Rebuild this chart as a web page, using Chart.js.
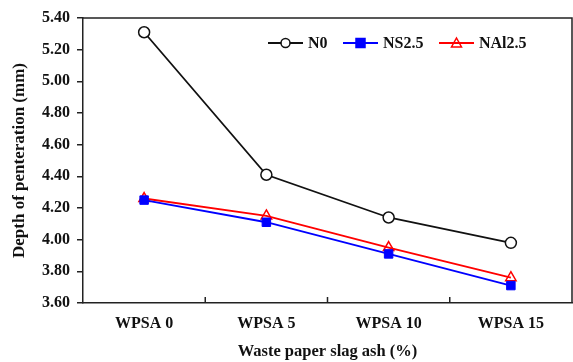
<!DOCTYPE html>
<html>
<head>
<meta charset="utf-8">
<script src="https://cdn.jsdelivr.net/npm/chart.js@4"></script>
<style>
  html, body { margin: 0; padding: 0; background: #fff; }
  #wrap { width: 573px; height: 362px; }
</style>
</head>
<body>
<div id="wrap"><canvas id="lineChart"></canvas></div>
<script>
// data
var categories = ['WPSA 0', 'WPSA 5', 'WPSA 10', 'WPSA 15'];
var n0 = [5.31, 4.41, 4.14, 3.98];
var ns25 = [4.25, 4.11, 3.91, 3.71];
var nal25 = [4.26, 4.15, 3.95, 3.76];
var yTicks = [3.60, 3.80, 4.00, 4.20, 4.40, 4.60, 4.80, 5.00, 5.20, 5.40];

var serif = "'Liberation Serif', 'Times New Roman', serif";

// frame on top/right + inward x ticks
var framePlugin = {
    id: 'frame',
    afterDraw: function (chart) {
        var ctx = chart.ctx;
        var a = chart.chartArea;
        var x = chart.scales.x;
        ctx.save();
        ctx.strokeStyle = '#222';
        ctx.lineWidth = 1.5;
        ctx.beginPath();
        ctx.moveTo(a.left, a.top);
        ctx.lineTo(a.right, a.top);
        ctx.lineTo(a.right, a.bottom);
        for (var i = 0; i < categories.length - 1; i++) {
            var px = (x.getPixelForValue(i) + x.getPixelForValue(i + 1)) / 2;
            ctx.moveTo(px, a.bottom);
            ctx.lineTo(px, a.bottom - 6);
        }
        ctx.stroke();
        ctx.restore();
    }
};

// legend drawn inside the plot, line + marker like the original
var legendPlugin = {
    id: 'innerLegend',
    afterDraw: function (chart) {
        var ctx = chart.ctx;
        var y = 43;
        var starts = [268, 343, 439];
        ctx.save();
        ctx.font = 'bold 16px ' + serif;
        ctx.textBaseline = 'middle';
        chart.data.datasets.forEach(function (ds, i) {
            var x0 = starts[i];
            ctx.strokeStyle = ds.borderColor;
            ctx.lineWidth = 1.8;
            ctx.beginPath();
            ctx.moveTo(x0, y);
            ctx.lineTo(x0 + 35, y);
            ctx.stroke();
            var cx = x0 + 17.5;
            ctx.fillStyle = ds.pointBackgroundColor;
            ctx.strokeStyle = ds.pointBorderColor;
            ctx.lineWidth = 1.5;
            ctx.beginPath();
            if (ds.pointStyle === 'circle') {
                ctx.arc(cx, y, 4.5, 0, Math.PI * 2);
            } else if (ds.pointStyle === 'rect') {
                ctx.rect(cx - 4.5, y - 4.5, 9, 9);
            } else {
                ctx.moveTo(cx, y - 5);
                ctx.lineTo(cx + 5, y + 4);
                ctx.lineTo(cx - 5, y + 4);
                ctx.closePath();
            }
            ctx.fill();
            ctx.stroke();
            ctx.fillStyle = '#111';
            ctx.fillText(ds.label, x0 + 40, y + 1);
        });
        ctx.restore();
    }
};

var ctx = document.getElementById('lineChart').getContext('2d');
var lineChart = new Chart(ctx, {
    type: 'line',
    data: {
        labels: categories,
        datasets: [{
            label: 'N0',
            data: n0,
            borderColor: '#111',
            borderWidth: 1.8,
            pointStyle: 'circle',
            pointRadius: 5.5,
            pointBorderWidth: 1.5,
            pointBackgroundColor: '#fff',
            pointBorderColor: '#111'
        }, {
            label: 'NS2.5',
            data: ns25,
            borderColor: '#0000ff',
            borderWidth: 1.8,
            pointStyle: 'rect',
            pointRadius: 6,
            pointBorderWidth: 1,
            pointBackgroundColor: '#0000ff',
            pointBorderColor: '#0000ff'
        }, {
            label: 'NAl2.5',
            data: nal25,
            borderColor: '#ff0000',
            borderWidth: 1.8,
            pointStyle: 'triangle',
            pointRadius: 6,
            pointBorderWidth: 1.5,
            pointBackgroundColor: 'rgba(255,255,255,0)',
            pointBorderColor: '#ff0000'
        }]
    },
    options: {
        responsive: true,
        maintainAspectRatio: false,
        animation: false,
        layout: {
            autoPadding: false,
            padding: { top: 18, left: 9, right: 1, bottom: 0 }
        },
        plugins: {
            legend: { display: false },
            tooltip: { enabled: false }
        },
        scales: {
            x: {
                offset: true,
                grid: { display: true, drawOnChartArea: false, drawTicks: false },
                border: { color: '#222', width: 1.5 },
                ticks: {
                    padding: 11,
                    color: '#111',
                    font: { family: serif, size: 16, weight: 'bold' }
                },
                title: {
                    display: true,
                    text: 'Waste paper slag ash (%)',
                    color: '#111',
                    padding: 0,
                    font: { family: serif, size: 16.5, weight: 'bold' }
                },
                afterFit: function (scale) {
                    scale.height = 59;
                    scale.paddingLeft = 0;
                    scale.paddingRight = 0;
                }
            },
            y: {
                min: 3.6,
                max: 5.4,
                afterBuildTicks: function (scale) {
                    scale.ticks = yTicks.map(function (v) { return { value: v }; });
                },
                grid: { display: true, drawOnChartArea: false, tickLength: 6, color: '#222', lineWidth: 1.5 },
                border: { color: '#222', width: 1.5 },
                ticks: {
                    padding: 7,
                    color: '#111',
                    font: { family: serif, size: 16, weight: 'bold' },
                    callback: function (v) { return Number(v).toFixed(2); }
                },
                title: {
                    display: true,
                    text: 'Depth of penteration (mm)',
                    color: '#111',
                    padding: 0,
                    font: { family: serif, size: 17, weight: 'bold' }
                },
                afterFit: function (scale) { scale.width = 74; }
            }
        }
    },
    plugins: [framePlugin, legendPlugin]
});
</script>
</body>
</html>
